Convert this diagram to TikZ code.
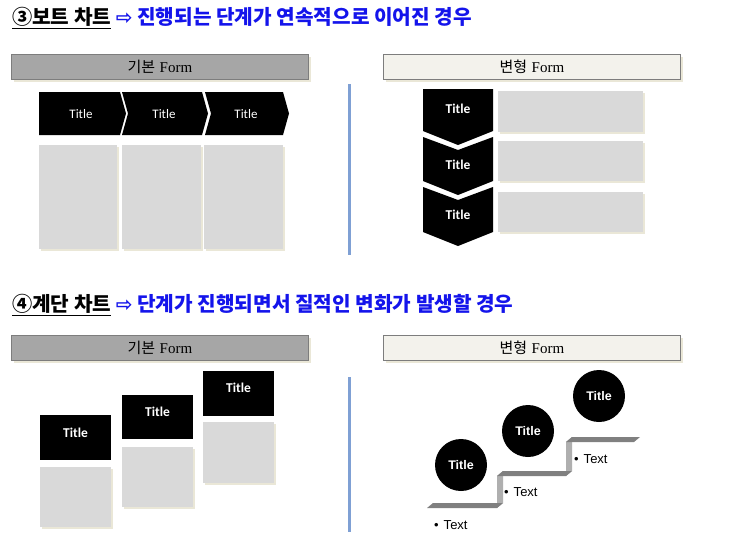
\documentclass[tikz,border=0pt]{standalone}
\usepackage{fontspec}
\newfontfamily\cjk{Noto Sans CJK KR}
\newfontfamily\arrfont{DejaVu Sans}
\newfontfamily\carlito{Carlito}
\newfontfamily\libsans{Liberation Sans}
\newfontfamily\libserifx{Liberation Serif}
\definecolor{hdrblue}{RGB}{20,20,235}
\definecolor{barGray}{RGB}{166,166,166}
\definecolor{barEdge}{RGB}{125,125,125}
\definecolor{lightBar}{RGB}{243,242,236}
\definecolor{boxGray}{RGB}{217,217,217}
\definecolor{shadowB}{RGB}{234,231,215}
\definecolor{lineBlue}{RGB}{127,160,212}
\definecolor{treadGray}{RGB}{128,128,128}
\definecolor{riserGray}{RGB}{175,175,175}
\tikzset{
  hdr/.style={anchor=west, inner sep=0pt, font=\cjk\bfseries\fontsize{20.2}{22}\selectfont},
  barbox/.style={draw=barEdge, line width=0.8pt, minimum width=297pt, minimum height=25pt, inner sep=0pt, font=\fontsize{15}{17}\selectfont},
  chevtitle/.style={text=white, inner sep=0pt, font=\carlito\fontsize{13}{15}\selectfont},
  chevtitleb/.style={text=white, inner sep=0pt, font=\carlito\bfseries\fontsize{13.5}{15}\selectfont},
  circtitle/.style={circle, fill=black, minimum size=52pt, inner sep=0pt, text=white, font=\libsans\bfseries\fontsize{12.5}{14}\selectfont},
  bullettext/.style={anchor=west, inner sep=0pt, font=\libsans\fontsize{13}{15}\selectfont},
  divider/.style={draw=lineBlue, line width=3pt},
  gbox/.style={fill=boxGray},
  shbox/.style={fill=shadowB},
}
\newcommand\grayblock[4]{%
  \fill[shbox] (#1+2,#2+2) rectangle (#3+2,#4+2);
  \fill[gbox] (#1,#2) rectangle (#3,#4);}
\newcommand\formbar[6]{%
  \fill[shbox] (#2+2.5,#3+2.5) rectangle (#2+299.5,#3+27.5);
  \node[barbox, fill=#4, anchor=north west] (#1) at (#2,#3) {{\cjk #5} {\libserifx #6}};}
\begin{document}
\begin{tikzpicture}[x=1pt,y=-1pt]
\useasboundingbox[fill=white] (0,0) rectangle (740,541);

% ---------- headers ----------
\node[hdr] (h1) at (12,18) {\underline{③보트 차트} {\color{hdrblue}{\arrfont\fontsize{20}{22}\selectfont ⇨} 진행되는 단계가 연속적으로 이어진 경우}};
\node[hdr] (h2) at (12,305) {\underline{④계단 차트} {\color{hdrblue}{\arrfont\fontsize{20}{22}\selectfont ⇨} 단계가 진행되면서 질적인 변화가 발생할 경우}};

% ---------- form bars ----------
\formbar{b1}{11}{54}{barGray}{기본}{Form}
\formbar{b2}{383}{54}{lightBar}{변형}{Form}
\formbar{b3}{11}{335}{barGray}{기본}{Form}
\formbar{b4}{383}{335}{lightBar}{변형}{Form}

% ---------- dividers ----------
\coordinate (d1a) at (349,84);
\coordinate (d1b) at (349,255);
\coordinate (d2a) at (349,377);
\coordinate (d2b) at (349,532);
\draw[divider] (d1a) -- (d1b);
\draw[divider] (d2a) -- (d2b);

% ---------- section 1 left: chevron row ----------
\fill[black] (39,92) -- (120,92) -- (126,113.5) -- (120,135) -- (39,135) -- cycle;
\fill[black] (122,92) -- (202,92) -- (208,113.5) -- (202,135) -- (122,135) -- (128,113.5) -- cycle;
\fill[black] (205,92) -- (283,92) -- (289,113.5) -- (283,135) -- (205,135) -- (211,113.5) -- cycle;
\node[chevtitle] (t1) at (81,114) {Title};
\node[chevtitle] (t2) at (164,114) {Title};
\node[chevtitle] (t3) at (246,114) {Title};
\grayblock{39}{145}{117}{249}
\grayblock{122}{145}{201}{249}
\grayblock{204}{145}{283}{249}

% ---------- section 1 right: down chevrons ----------
\fill[black] (423,89) -- (493,89) -- (493,131) -- (458,145) -- (423,131) -- cycle;
\fill[black] (423,137) -- (458,150) -- (493,137) -- (493,181) -- (458,195) -- (423,181) -- cycle;
\fill[black] (423,187) -- (458,200) -- (493,187) -- (493,232) -- (458,246) -- (423,232) -- cycle;
\node[chevtitleb] (v1) at (458,109) {Title};
\node[chevtitleb] (v2) at (458,165) {Title};
\node[chevtitleb] (v3) at (458,215) {Title};
\grayblock{498}{91}{643}{132}
\grayblock{498}{141}{643}{181}
\grayblock{498}{192}{643}{232}

% ---------- section 2 left: stepped boxes ----------
\fill[black] (40,415) rectangle (111,460);
\fill[black] (122,395) rectangle (193,439);
\fill[black] (203,371) rectangle (274,416);
\node[chevtitleb] (s1) at (75.5,433) {Title};
\node[chevtitleb] (s2) at (157.5,412) {Title};
\node[chevtitleb] (s3) at (238.5,388) {Title};
\grayblock{40}{467}{111}{527}
\grayblock{122}{447}{193}{507}
\grayblock{203}{422}{274}{483}

% ---------- section 2 right: staircase ----------
% risers
\fill[riserGray] (497,508) -- (503,503) -- (503,471) -- (497,476) -- cycle;
\fill[riserGray] (566,476) -- (572,471) -- (572,437) -- (566,442) -- cycle;
% treads
\fill[treadGray] (427,508) -- (433,503) -- (503,503) -- (497,508) -- cycle;
\fill[treadGray] (497,476) -- (503,471) -- (572,471) -- (566,476) -- cycle;
\fill[treadGray] (566,442) -- (572,437) -- (640,437) -- (634,442) -- cycle;
\node[circtitle] (c1) at (461,465) {Title};
\node[circtitle] (c2) at (528,431) {Title};
\node[circtitle] (c3) at (599,396) {Title};
\node[bullettext] (x1) at (434,525) {•\hspace{5pt}Text};
\node[bullettext] (x2) at (504,492) {•\hspace{5pt}Text};
\node[bullettext] (x3) at (574,459) {•\hspace{5pt}Text};
\end{tikzpicture}
\end{document}
